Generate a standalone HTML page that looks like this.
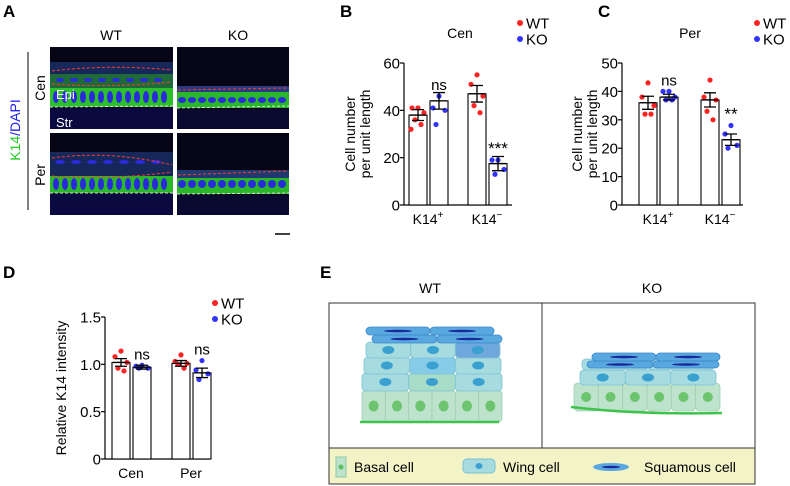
<!DOCTYPE html>
<html><head><meta charset="utf-8"><style>
html,body{margin:0;padding:0;background:#fff;}
svg{display:block;font-family:"Liberation Sans",Arial,sans-serif;}
</style></head><body>
<svg id="fig" width="790" height="486" viewBox="0 0 790 486" xmlns="http://www.w3.org/2000/svg">
<!-- Panel A -->
<g>
<text x="3" y="17" font-size="17" font-weight="bold">A</text>
<text x="111" y="40" font-size="14" text-anchor="middle">WT</text>
<text x="238" y="40" font-size="14" text-anchor="middle">KO</text>
<line x1="28" y1="52" x2="28" y2="210" stroke="#000" stroke-width="1"/>
<text transform="translate(20,130) rotate(-90)" font-size="14" text-anchor="middle"><tspan fill="#22cc22">K14</tspan><tspan fill="#2222ee">/DAPI</tspan></text>
<text transform="translate(45,88) rotate(-90)" font-size="14" text-anchor="middle">Cen</text>
<text transform="translate(45,175) rotate(-90)" font-size="14" text-anchor="middle">Per</text>
<g>
<rect x="50" y="47" width="123" height="82" fill="#050515"/>
<rect x="50" y="62" width="123" height="12" fill="#16285a"/>
<rect x="50" y="74" width="123" height="14" fill="#1e6a3a"/>
<rect x="50" y="88" width="123" height="19" fill="#2cc02c"/>
<g id="nucWC" fill="#2a2adc"></g>
<path d="M52 71 Q110 64 172 70" stroke="#ff3a2a" stroke-dasharray="3 2" fill="none"/>
<path d="M52 84 Q110 88 172 82" stroke="#ff3a2a" stroke-dasharray="3 2" fill="none"/>
<line x1="50" y1="107" x2="173" y2="106" stroke="#ddd" stroke-dasharray="3 2"/>
<rect x="50" y="108" width="123" height="21" fill="#0a0a40"/>
<text x="56" y="99" font-size="13" fill="#fff">Epi</text>
<text x="56" y="127" font-size="13" fill="#fff">Str</text>
</g>
<g>
<rect x="177" y="47" width="112" height="82" fill="#050515"/>
<rect x="177" y="88" width="112" height="20" fill="#2ab82a"/>
<rect x="177" y="86" width="112" height="6" fill="#2a3a80"/>
<g id="nucKC" fill="#2a2adc"></g>
<path d="M178 90 L288 88" stroke="#ff3a2a" stroke-dasharray="3 2" fill="none"/>
<line x1="177" y1="108" x2="289" y2="106" stroke="#ddd" stroke-dasharray="3 2"/>
<rect x="177" y="109" width="112" height="20" fill="#0a0a30"/>
</g>
<g>
<rect x="50" y="133" width="123" height="82" fill="#050515"/>
<rect x="50" y="152" width="123" height="24" fill="#16285a"/>
<rect x="50" y="176" width="123" height="17" fill="#2ab82a"/>
<g id="nucWP" fill="#2a2adc"></g>
<path d="M52 158 Q110 150 172 165" stroke="#ff3a2a" stroke-dasharray="3 2" fill="none"/>
<path d="M52 176 Q110 180 172 172" stroke="#ff3a2a" stroke-dasharray="3 2" fill="none"/>
<line x1="50" y1="193" x2="173" y2="193" stroke="#ddd" stroke-dasharray="3 2"/>
<rect x="50" y="194" width="123" height="21" fill="#0a0a40"/>
</g>
<g>
<rect x="177" y="133" width="112" height="82" fill="#050515"/>
<rect x="177" y="172" width="112" height="22" fill="#2ab82a"/>
<rect x="177" y="170" width="112" height="8" fill="#203a70"/>
<g id="nucKP" fill="#2a2adc"></g>
<path d="M178 175 L288 171" stroke="#ff3a2a" stroke-dasharray="3 2" fill="none"/>
<line x1="177" y1="194" x2="289" y2="193" stroke="#ddd" stroke-dasharray="3 2"/>
<rect x="177" y="195" width="112" height="20" fill="#0a0a30"/>
</g>
<line x1="275" y1="234" x2="290" y2="234" stroke="#000" stroke-width="1.5"/>
</g>

<!-- Panel E -->
<g>
<text x="320" y="278" font-size="17" font-weight="bold">E</text>
<text x="430" y="293" font-size="14" text-anchor="middle">WT</text>
<text x="652" y="293" font-size="14" text-anchor="middle">KO</text>
<rect x="329" y="303" width="426" height="181" fill="#fff" stroke="#333" stroke-width="1"/>
<line x1="542" y1="303" x2="542" y2="448" stroke="#333"/>
<rect x="329" y="448" width="426" height="36" fill="#f2f3c6" stroke="#333"/>
<g id="wtEpi"></g>
<g id="koEpi"></g>
<g>
<rect x="336" y="457" width="10" height="20" fill="#bde3cc" stroke="#8fc8a8"/>
<circle cx="341" cy="467" r="2.5" fill="#5cc060"/>
<text x="354" y="472" font-size="14">Basal cell</text>
</g>
<g>
<rect x="463" y="459" width="32" height="14" rx="4" fill="#a6dbe0" stroke="#7cc0d0"/>
<ellipse cx="479" cy="466" rx="3.5" ry="3" fill="#3aa0d0"/>
<text x="503" y="472" font-size="14">Wing cell</text>
</g>
<g>
<ellipse cx="611" cy="467" rx="18" ry="4" fill="#5aa8e0"/>
<ellipse cx="611" cy="467" rx="9" ry="1.3" fill="#1a2a9a"/>
<text x="644" y="472" font-size="14">Squamous cell</text>
</g>
</g>
</svg>
<script>
// Panel B data (Cen)
const bCategories = ["K14+", "K14-"];
const bWtMeans = [38, 47];
const bKoMeans = [44, 17.5];
const bWtSem = [2.3, 3.5];
const bKoSem = [3.5, 3];
const bWtPoints = [[41, 41, 39, 36, 34, 32], [55, 51, 46, 42, 39]];
const bKoPoints = [[46, 41, 40, 34], [19, 19, 15, 13]];
const bTicks = [0, 20, 40, 60];
const bSig = ["ns", "***"];
// Panel C data (Per)
const cCategories = ["K14+", "K14-"];
const cWtMeans = [36, 37];
const cKoMeans = [38, 23];
const cWtSem = [2.3, 2.5];
const cKoSem = [1, 2];
const cWtPoints = [[43, 38, 35, 32, 32], [44, 38, 37, 33, 30]];
const cKoPoints = [[40, 40, 38, 37, 37], [28, 25, 21, 20]];
const cTicks = [0, 10, 20, 30, 40, 50];
const cSig = ["ns", "**"];
// Panel D data
const dCategories = ["Cen", "Per"];
const dWtMeans = [1.02, 1.01];
const dKoMeans = [0.97, 0.91];
const dWtSem = [0.04, 0.03];
const dKoSem = [0.02, 0.05];
const dWtPoints = [[1.14, 1.08, 1.02, 0.96, 0.93], [1.10, 1.03, 1.01, 1.00, 0.96]];
const dKoPoints = [[0.99, 0.98, 0.96, 0.96], [1.04, 0.94, 0.90, 0.84]];
const dTicks = [0, 0.5, 1.0, 1.5];
const dTickLabels = ["0", "0.5", "1.0", "1.5"];
const dSig = ["ns", "ns"];

const NS = "http://www.w3.org/2000/svg";
const svg = document.getElementById("fig");
function mk(tag, attrs, parent) {
  const e = document.createElementNS(NS, tag);
  for (const k in attrs) e.setAttribute(k, attrs[k]);
  (parent || svg).appendChild(e);
  return e;
}
const JIT = [0, -6, 6, -3, 3, -7, 7];
function jit(n, i) { return JIT[i % JIT.length]; }

function drawChart(o) {
  const g = mk("g", {});
  
  
  const yScale = v => o.y0 - (v / o.max) * (o.y0 - o.y1);
  if (o.letter) {
    const letter = mk("text", {x: o.letterX, y: 17, "font-size": 17, "font-weight": "bold"}, g);
    letter.textContent = o.letter;
    
    
  }
  if (o.title) {
    const t = mk("text", {x: o.titleX, y: 38, "font-size": 14, "text-anchor": "middle"}, g);
    t.textContent = o.title;
    
    
  }
  [["WT", "#f22"], ["KO", "#33f"]].forEach((l, i) => {
    const c = mk("circle", {cx: o.legX, cy: o.legY + i * 16, r: 3, fill: l[1]}, g);
    
    
    const t = mk("text", {x: o.legX + 6, y: o.legY + i * 16 + 5.5, "font-size": 15}, g);
    t.textContent = l[0];
    
    
  });
  const ya = mk("line", {x1: o.ax, y1: o.y1, x2: o.ax, y2: o.y0, stroke: "#000", "stroke-width": 1.2}, g);
  
  
  const xa = mk("line", {x1: o.ax, y1: o.y0, x2: o.axEnd, y2: o.y0, stroke: "#000", "stroke-width": 1.2}, g);
  
  
  o.ticks.forEach((v, i) => {
    const y = yScale(v);
    const tk = mk("line", {x1: o.ax - 4, y1: y, x2: o.ax, y2: y, stroke: "#000", "stroke-width": 1.2}, g);
    
    
    const tl = mk("text", {x: o.ax - 4, y: y + 5.5, "font-size": 15, "text-anchor": "end"}, g);
    tl.textContent = o.tickLabels ? o.tickLabels[i] : String(v);
    
    
  });
  const yt = mk("text", {transform: `translate(${o.ytX},${(o.y0 + o.y1) / 2}) rotate(-90)`, "font-size": 14, "text-anchor": "middle"}, g);
  
  
  o.ytLines.forEach((s, i) => {
    const ts = mk("tspan", {x: 0, dy: i === 0 ? 0 : 15}, yt);
    ts.textContent = s;
  });
  o.cats.forEach((cat, ci) => {
    const gx = o.gx[ci];
    [[o.wt, o.wtSem, o.wtPts, "#f22", 0, "wt"], [o.ko, o.koSem, o.koPts, "#33f", 1, "ko"]].forEach(s => {
      const x = gx + s[4] * (o.bw + 3);
      const m = s[0][ci], e = s[1][ci];
      const b = mk("rect", {x: x, y: yScale(m), width: o.bw, height: o.y0 - yScale(m), fill: "#fff", stroke: "#000", "stroke-width": 1.1}, g);
      
      
      const cx = x + o.bw / 2;
      const pts = s[2][ci];
      pts.forEach((v, pi) => {
        const d = mk("circle", {cx: cx + jit(pts.length, pi), cy: yScale(v), r: 2.6, fill: s[3]}, g);
        
        
      });
      const eb = mk("path", {d: `M${cx} ${yScale(m + e)} V${yScale(m - e)} M${cx - 6} ${yScale(m + e)} H${cx + 6} M${cx - 6} ${yScale(m - e)} H${cx + 6} M${cx - 8} ${yScale(m)} H${cx + 8}`, stroke: "#000", "stroke-width": 1.3, fill: "none"}, g);
      
      
    });
    const top = Math.max(...o.koPts[ci]);
    const sg = mk("text", {x: gx + o.bw * 1.5 + 3, y: yScale(top) - 6, "font-size": o.sig[ci] === "ns" ? 15 : 17, "text-anchor": "middle"}, g);
    sg.textContent = o.sig[ci];
    
    
    const xl = mk("text", {x: gx + o.bw + 1, y: o.y0 + 19, "font-size": 14, "text-anchor": "middle"}, g);
    const mt = cat.match(/^(K14)([+-])$/);
    if (mt) {
      xl.appendChild(document.createTextNode(mt[1]));
      const sp = mk("tspan", {dy: -6, "font-size": 10}, xl);
      sp.textContent = mt[2] === "+" ? "+" : "\u2212";
    } else xl.textContent = cat;
    
    
  });
}

drawChart({name: "panel-b-chart", letter: "B", letterX: 340, title: "Cen", titleX: 460, legX: 520, legY: 23,
  ax: 404, axEnd: 512, y0: 205, y1: 63, max: 60, ticks: bTicks, ytX: 355, ytLines: ["Cell number", "per unit length"],
  cats: bCategories, gx: [409, 468], bw: 18, wt: bWtMeans, ko: bKoMeans, wtSem: bWtSem, koSem: bKoSem,
  wtPts: bWtPoints, koPts: bKoPoints, sig: bSig});
drawChart({name: "panel-c-chart", letter: "C", letterX: 598, title: "Per", titleX: 690, legX: 757, legY: 23,
  ax: 622, axEnd: 743, y0: 205, y1: 63, max: 50, ticks: cTicks, ytX: 582, ytLines: ["Cell number", "per unit length"],
  cats: cCategories, gx: [639, 701], bw: 18, wt: cWtMeans, ko: cKoMeans, wtSem: cWtSem, koSem: cKoSem,
  wtPts: cWtPoints, koPts: cKoPoints, sig: cSig});
drawChart({name: "panel-d-chart", letter: "", letterX: 3, title: "", titleX: 0, legX: 215, legY: 303,
  ax: 105, axEnd: 210, y0: 459, y1: 317, max: 1.5, ticks: dTicks, tickLabels: dTickLabels, ytX: 66, ytLines: ["Relative K14 intensity"],
  cats: dCategories, gx: [112, 172], bw: 18, wt: dWtMeans, ko: dKoMeans, wtSem: dWtSem, koSem: dKoSem,
  wtPts: dWtPoints, koPts: dKoPoints, sig: dSig});
const dl = mk("text", {x: 3, y: 278, "font-size": 17, "font-weight": "bold"});
dl.textContent = "D";



// microscopy nuclei (decorative)
function nuclei(id, x0, x1, y, step, rx, ry) {
  const g = document.getElementById(id);
  for (let x = x0; x < x1; x += step) mk("ellipse", {cx: x, cy: y, rx: rx, ry: ry}, g);
}
nuclei("nucWC", 56, 172, 97, 9, 3, 6);
nuclei("nucWC", 60, 170, 80, 14, 4, 2);
nuclei("nucKC", 182, 288, 100, 10, 4, 3);
nuclei("nucWP", 56, 172, 184, 9, 3, 6);
nuclei("nucWP", 60, 170, 162, 16, 5, 2);
nuclei("nucKP", 182, 288, 184, 10, 4, 4);

// schematic cells (decorative)
function cellRow(g, x0, y, w, h, n, fill, stroke, nucFill, nrx, nry, fills) {
  const cw = w / n;
  for (let i = 0; i < n; i++) {
    mk("rect", {x: x0 + i * cw, y: y, width: cw, height: h, rx: 4, fill: fills ? fills[i] : fill, stroke: stroke, "stroke-width": 0.8}, g);
    mk("ellipse", {cx: x0 + (i + 0.5) * cw, cy: y + h / 2, rx: nrx, ry: nry, fill: nucFill}, g);
  }
}
const wt = document.getElementById("wtEpi");
cellRow(wt, 362, 390, 140, 32, 6, "#bde3cc", "#9fcfb2", "#6cc46e", 5, 5.5);
cellRow(wt, 362, 373, 140, 18, 3, "#a6dbe0", "#7fc3d3", "#3aa0d0", 6, 4, ["#a6dbe0", "#a6dcc8", "#a6dbe0"]);
cellRow(wt, 364, 357, 137, 17, 3, "#a6dbe0", "#7fc3d3", "#3aa0d0", 6, 4, ["#a6dbe0", "#86cbe8", "#a6dbe0"]);
cellRow(wt, 366, 342, 134, 16, 3, "#a6dbe0", "#7fc3d3", "#3aa0d0", 6, 4, ["#a6dbe0", "#a6dbe0", "#6fa8dc"]);
cellRow(wt, 372, 335, 130, 8, 2, "#5aa8e0", "#3a88c8", "#1a2a9a", 14, 1.2);
cellRow(wt, 366, 327, 128, 8, 2, "#5aa8e0", "#3a88c8", "#1a2a9a", 14, 1.2);
mk("line", {x1: 360, y1: 422, x2: 499, y2: 422, stroke: "#3ec44a", "stroke-width": 2.5}, wt);
const ko = document.getElementById("koEpi");
cellRow(ko, 574, 383, 146, 28, 6, "#bde3cc", "#9fcfb2", "#6cc46e", 5, 5);
cellRow(ko, 580, 370, 136, 15, 3, "#a6dbe0", "#7fc3d3", "#3aa0d0", 6, 4);
cellRow(ko, 582, 359, 132, 11, 2, "#a6dbe0", "#7fc3d3", "#3aa0d0", 6, 3);
cellRow(ko, 587, 361, 132, 7, 2, "#5aa8e0", "#3a88c8", "#1a2a9a", 14, 1.2);
cellRow(ko, 592, 353, 128, 8, 2, "#5aa8e0", "#3a88c8", "#1a2a9a", 14, 1.2);
mk("path", {d: "M571 407 Q640 415 722 413", stroke: "#3ec44a", "stroke-width": 2.5, fill: "none"}, ko);
</script>
</body></html>
